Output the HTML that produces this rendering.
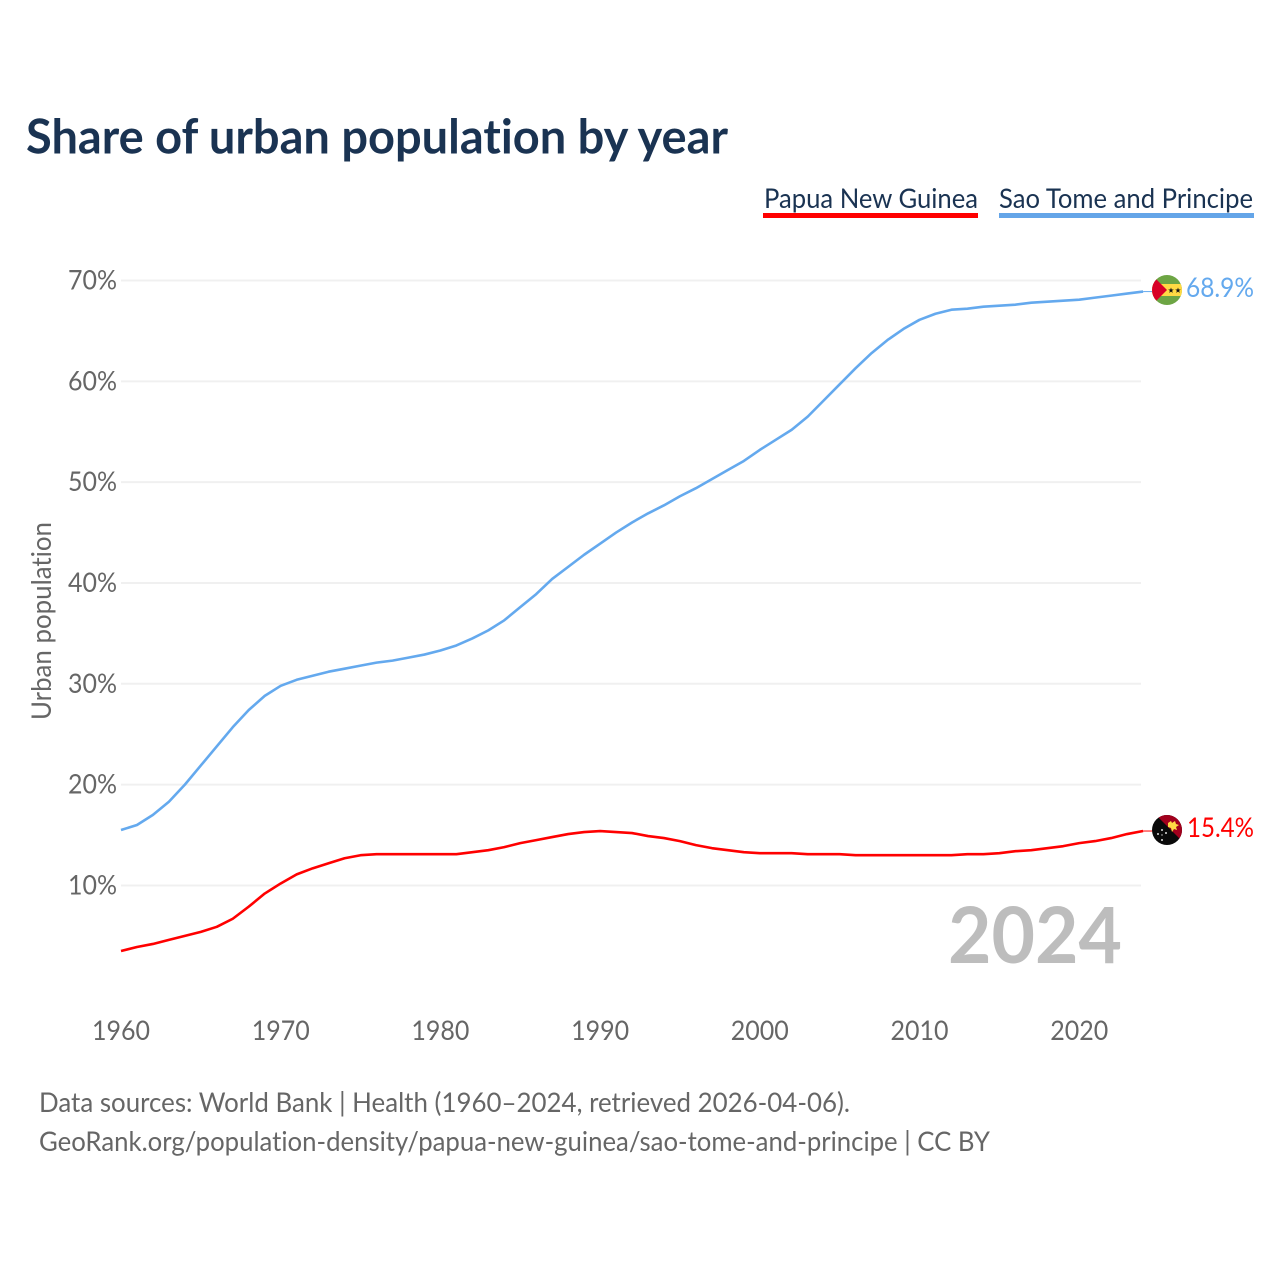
<!DOCTYPE html>
<html lang="en">
<head>
<meta charset="utf-8">
<title>Share of urban population by year</title>
<style>
html,body{margin:0;padding:0;background:#fff;width:1280px;height:1280px;overflow:hidden}
svg{display:block}
text{font-family:"Lato","Carlito","Liberation Sans",sans-serif;font-variant-ligatures:none}
</style>
</head>
<body>
<svg id="chart" width="1280" height="1280" viewBox="0 0 1280 1280" xmlns="http://www.w3.org/2000/svg">
  <rect x="0" y="0" width="1280" height="1280" fill="#fff"/>
  <text x="26" y="153.500" font-size="47.500" font-weight="700" fill="#1a3352" textLength="702" lengthAdjust="spacingAndGlyphs">Share of urban population by year</text>

  <g>
    <text x="764" y="208" font-size="27" fill="#1a3352" textLength="214" lengthAdjust="spacingAndGlyphs">Papua New Guinea</text>
    <rect x="763" y="213" width="215" height="5" fill="#ff0000"/>
  </g>
  <g>
    <text x="999" y="208" font-size="27" fill="#1a3352" textLength="254" lengthAdjust="spacingAndGlyphs">Sao Tome and Principe</text>
    <rect x="999" y="213" width="255" height="5" fill="#64a5e8"/>
  </g>

  <g id="grid"></g>
  <g id="yticks"></g>
  <g id="xticks"></g>
  <text transform="translate(51,720) rotate(-90)" font-size="27" fill="#666" textLength="198" lengthAdjust="spacingAndGlyphs">Urban population</text>
  <text x="948" y="963" font-size="78" font-weight="700" fill="#bdbdbd" textLength="174" lengthAdjust="spacingAndGlyphs">2024</text>

  <g id="series"></g>

  <g>
    <clipPath id="clip-st"><circle cx="1167" cy="290" r="15"/></clipPath>
    <g clip-path="url(#clip-st)">
      <rect x="1152" y="275" width="30" height="30" fill="#6da544"/>
      <rect x="1152" y="284" width="30" height="12" fill="#ffda44"/>
      <polygon points="1152,275 1167,290 1152,305" fill="#d80027"/>
      <polygon points="1171,287.500 1171.700,289.500 1173.800,289.500 1172.100,290.800 1172.800,292.900 1171,291.600 1169.200,292.900 1169.900,290.800 1168.200,289.500 1170.300,289.500" fill="#111"/>
      <polygon points="1178,287.500 1178.700,289.500 1180.800,289.500 1179.100,290.800 1179.800,292.900 1178,291.600 1176.200,292.900 1176.900,290.800 1175.200,289.500 1177.300,289.500" fill="#111"/>
    </g>
  </g>
  <g>
    <clipPath id="clip-pg"><circle cx="1167" cy="830" r="15"/></clipPath>
    <g clip-path="url(#clip-pg)">
      <rect x="1152" y="815" width="30" height="30" fill="#0a0a0a"/>
      <polygon points="1156,815 1182,815 1182,841" fill="#a2001d"/>
      <polygon points="1168,823 1171,821 1172,823 1175,821 1176,824 1179,825 1176,827 1177,830 1174,829 1172,832 1171,828 1168,827" fill="#ffda44"/>
      <circle cx="1162" cy="830" r="1" fill="#ddd"/>
      <circle cx="1166" cy="833" r="1" fill="#ddd"/>
      <circle cx="1158" cy="834" r="1" fill="#ddd"/>
      <circle cx="1162" cy="835" r="0.700" fill="#ddd"/>
      <circle cx="1162" cy="840" r="1" fill="#ddd"/>
    </g>
  </g>

  <text id="label-st" x="1186" y="297" font-size="27.500" fill="#64a9ee" textLength="68" lengthAdjust="spacingAndGlyphs"></text>
  <text id="label-pg" x="1187" y="837" font-size="27.500" fill="#ff0000" textLength="67" lengthAdjust="spacingAndGlyphs"></text>

  <text x="39" y="1112" font-size="27" fill="#666" textLength="811" lengthAdjust="spacingAndGlyphs">Data sources: World Bank | Health (1960–2024, retrieved 2026-04-06).</text>
  <text x="39" y="1151" font-size="27" fill="#666" textLength="951" lengthAdjust="spacingAndGlyphs">GeoRank.org/population-density/papua-new-guinea/sao-tome-and-principe | CC BY</text>
</svg>
<script>
const startYear = 1960;
const yTicks = [10, 20, 30, 40, 50, 60, 70];
const xTicks = [1960, 1970, 1980, 1990, 2000, 2010, 2020];
const saoTomeValues = [15.5,16.0,17.0,18.3,20.0,21.9,23.8,25.7,27.4,28.8,29.8,30.4,30.8,31.2,31.5,31.8,32.1,32.3,32.6,32.9,33.3,33.8,34.5,35.3,36.3,37.6,38.9,40.4,41.6,42.8,43.9,45.0,46.0,46.9,47.7,48.6,49.4,50.3,51.2,52.1,53.2,54.2,55.2,56.5,58.1,59.7,61.3,62.8,64.1,65.2,66.1,66.7,67.1,67.2,67.4,67.5,67.6,67.8,67.9,68.0,68.1,68.3,68.5,68.7,68.9];
const papuaValues = [3.5,3.9,4.2,4.6,5.0,5.4,5.9,6.7,7.9,9.2,10.2,11.1,11.7,12.2,12.7,13.0,13.1,13.1,13.1,13.1,13.1,13.1,13.3,13.5,13.8,14.2,14.5,14.8,15.1,15.3,15.4,15.3,15.2,14.9,14.7,14.4,14.0,13.7,13.5,13.3,13.2,13.2,13.2,13.1,13.1,13.1,13.0,13.0,13.0,13.0,13.0,13.0,13.0,13.1,13.1,13.2,13.4,13.5,13.7,13.9,14.2,14.4,14.7,15.1,15.4];

const NS = 'http://www.w3.org/2000/svg';
function xScale(year) { return 121 + (year - 1960) * 15.97; }
function yScale(pct) { return 986.3 - pct * 10.083; }

const grid = document.getElementById('grid');
const yGroup = document.getElementById('yticks');
yTicks.forEach(function (t) {
  const line = document.createElementNS(NS, 'line');
  
  
  line.setAttribute('x1', 121);
  line.setAttribute('x2', 1141);
  line.setAttribute('y1', yScale(t));
  line.setAttribute('y2', yScale(t));
  line.setAttribute('stroke', '#f0f0f0');
  line.setAttribute('stroke-width', 2);
  grid.appendChild(line);
  const label = document.createElementNS(NS, 'text');
  
  
  label.setAttribute('x', 117);
  label.setAttribute('y', yScale(t) + 9);
  label.setAttribute('text-anchor', 'end');
  label.setAttribute('font-size', 27);
  label.setAttribute('fill', '#666');
  label.setAttribute('textLength', 49);
  label.setAttribute('lengthAdjust', 'spacingAndGlyphs');
  label.textContent = t + '%';
  yGroup.appendChild(label);
});

const xGroup = document.getElementById('xticks');
xTicks.forEach(function (t) {
  const label = document.createElementNS(NS, 'text');
  
  
  label.setAttribute('x', xScale(t));
  label.setAttribute('y', 1040);
  label.setAttribute('text-anchor', 'middle');
  label.setAttribute('font-size', 27);
  label.setAttribute('fill', '#666');
  label.setAttribute('textLength', 58);
  label.setAttribute('lengthAdjust', 'spacingAndGlyphs');
  label.textContent = t;
  xGroup.appendChild(label);
});

const seriesGroup = document.getElementById('series');
function drawSeries(values, color, name) {
  const d = values.map(function (v, i) {
    return (i ? 'L' : 'M') + xScale(startYear + i).toFixed(2) + ' ' + yScale(v).toFixed(2);
  }).join(' ');
  const path = document.createElementNS(NS, 'path');
  
  
  path.setAttribute('d', d);
  path.setAttribute('fill', 'none');
  path.setAttribute('stroke', color);
  path.setAttribute('stroke-width', 2.6);
  path.setAttribute('stroke-linejoin', 'round');
  seriesGroup.appendChild(path);
  const lastY = yScale(values[values.length - 1]);
  const lead = document.createElementNS(NS, 'line');
  
  
  lead.setAttribute('x1', xScale(startYear + values.length - 1));
  lead.setAttribute('x2', 1153);
  lead.setAttribute('y1', lastY);
  lead.setAttribute('y2', lastY);
  lead.setAttribute('stroke', color);
  lead.setAttribute('stroke-width', 1);
  seriesGroup.appendChild(lead);
}
drawSeries(saoTomeValues, '#64a9ee', 'line-sao-tome-and-principe');
drawSeries(papuaValues, '#ff0000', 'line-papua-new-guinea');

document.getElementById('label-st').textContent = saoTomeValues[saoTomeValues.length - 1].toFixed(1) + '%';
document.getElementById('label-pg').textContent = papuaValues[papuaValues.length - 1].toFixed(1) + '%';
</script>
</body>
</html>
